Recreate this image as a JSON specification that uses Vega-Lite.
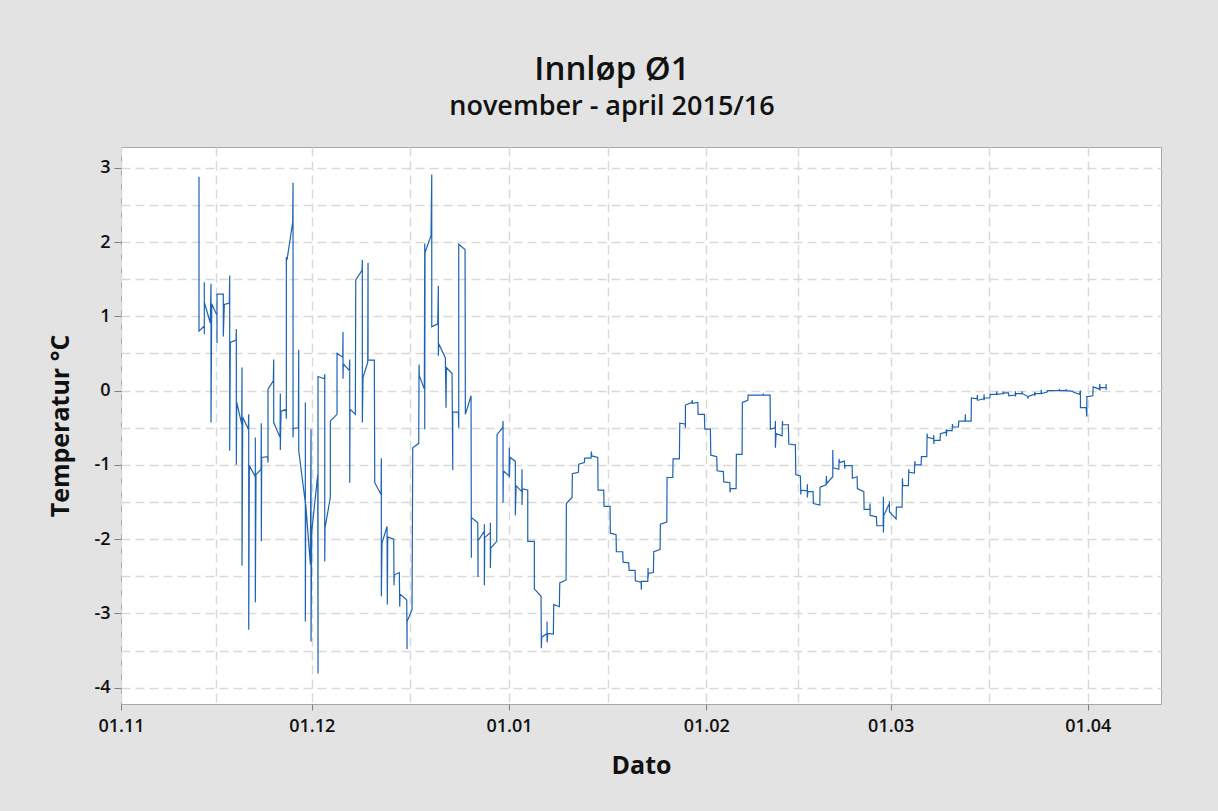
{
"$schema": "https://vega.github.io/schema/vega-lite/v6.json",
"width": 1040, "height": 557,
"autosize": {"type": "none"},
"padding": {"left": 121, "top": 147, "right": 57, "bottom": 107},
"background": "#e3e3e3",
"title": {"text": "Innløp Ø1", "subtitle": "november - april 2015/16", "anchor": "middle", "dx": -29, "offset": 27, "font": "Open Sans", "subtitleFont": "Open Sans", "fontSize": 33, "subtitleFontSize": 27, "fontWeight": 600, "subtitleFontWeight": 600, "color": "#111111", "subtitleColor": "#111111", "subtitlePadding": 7},
"data": {"values": [
{"t":"2015-11-13T06:18","v":2.88},{"t":"2015-11-13T06:18","v":0.80},{"t":"2015-11-14T02:18","v":0.87},{"t":"2015-11-14T02:18","v":1.46},{"t":"2015-11-14T02:18","v":0.76},{"t":"2015-11-14T02:18","v":1.19},
{"t":"2015-11-15T01:00","v":0.91},{"t":"2015-11-15T03:37","v":1.44},{"t":"2015-11-15T03:37","v":-0.43},{"t":"2015-11-15T06:16","v":1.17},
{"t":"2015-11-16T02:16","v":1.01},{"t":"2015-11-16T02:16","v":0.64},{"t":"2015-11-16T02:16","v":1.30},{"t":"2015-11-17T02:00","v":1.30},{"t":"2015-11-17T02:00","v":0.73},{"t":"2015-11-17T05:48","v":1.16},
{"t":"2015-11-18T00:40","v":1.18},{"t":"2015-11-18T02:10","v":1.55},{"t":"2015-11-18T02:10","v":-0.81},{"t":"2015-11-18T04:30","v":0.65},
{"t":"2015-11-19T02:00","v":0.68},{"t":"2015-11-19T03:06","v":0.83},{"t":"2015-11-19T03:06","v":-1.00},{"t":"2015-11-19T04:36","v":-0.16},
{"t":"2015-11-19T23:30","v":-0.45},{"t":"2015-11-20T00:36","v":0.31},{"t":"2015-11-20T00:36","v":-2.36},{"t":"2015-11-20T03:18","v":-0.36},
{"t":"2015-11-21T00:24","v":-0.52},{"t":"2015-11-21T01:54","v":-0.32},{"t":"2015-11-21T01:54","v":-3.22},{"t":"2015-11-21T04:12","v":-1.01},
{"t":"2015-11-22T02:48","v":-1.16},{"t":"2015-11-22T02:48","v":-0.63},{"t":"2015-11-22T02:48","v":-2.85},{"t":"2015-11-22T05:24","v":-1.13},
{"t":"2015-11-23T00:18","v":-1.06},{"t":"2015-11-23T01:24","v":-0.44},{"t":"2015-11-23T01:24","v":-2.03},{"t":"2015-11-23T03:00","v":-0.90},
{"t":"2015-11-24T01:36","v":-0.89},{"t":"2015-11-24T02:42","v":-0.97},{"t":"2015-11-24T02:42","v":0.02},{"t":"2015-11-24T22:42","v":0.13},
{"t":"2015-11-25T00:12","v":0.42},{"t":"2015-11-25T00:12","v":-0.43},{"t":"2015-11-26T00:00","v":-0.63},{"t":"2015-11-26T01:06","v":-0.04},{"t":"2015-11-26T01:06","v":-0.80},{"t":"2015-11-26T03:48","v":-0.28},
{"t":"2015-11-26T22:36","v":-0.25},{"t":"2015-11-26T23:48","v":-0.38},{"t":"2015-11-26T23:48","v":1.80},{"t":"2015-11-27T02:24","v":1.76},{"t":"2015-11-27T23:54","v":2.27},
{"t":"2015-11-28T01:06","v":2.80},{"t":"2015-11-28T01:06","v":-0.63},{"t":"2015-11-28T02:12","v":-0.51},{"t":"2015-11-28T21:06","v":-0.50},{"t":"2015-11-28T22:36","v":0.55},{"t":"2015-11-28T22:36","v":-0.81},
{"t":"2015-11-29T23:30","v":-1.51},{"t":"2015-11-29T23:30","v":-0.16},{"t":"2015-11-29T23:30","v":-3.11},{"t":"2015-11-30T01:00","v":-1.53},{"t":"2015-11-30T18:24","v":-2.34},
{"t":"2015-11-30T21:00","v":-0.52},{"t":"2015-11-30T21:00","v":-3.38},{"t":"2015-11-30T23:36","v":-1.90},{"t":"2015-12-01T22:18","v":-1.13},
{"t":"2015-12-01T23:24","v":-3.81},{"t":"2015-12-01T23:24","v":0.19},{"t":"2015-12-02T23:12","v":0.16},{"t":"2015-12-03T00:42","v":0.22},{"t":"2015-12-03T00:42","v":-2.30},{"t":"2015-12-03T01:48","v":-1.85},
{"t":"2015-12-03T21:48","v":-1.44},{"t":"2015-12-03T21:48","v":-0.41},{"t":"2015-12-04T23:06","v":-0.32},{"t":"2015-12-04T23:06","v":0.50},{"t":"2015-12-05T20:36","v":0.45},
{"t":"2015-12-05T21:42","v":0.79},{"t":"2015-12-05T21:42","v":0.16},{"t":"2015-12-05T22:54","v":0.36},{"t":"2015-12-06T21:30","v":0.27},
{"t":"2015-12-06T23:00","v":0.42},{"t":"2015-12-06T23:00","v":-1.24},{"t":"2015-12-07T00:12","v":-0.25},{"t":"2015-12-07T20:12","v":-0.32},
{"t":"2015-12-07T21:42","v":1.49},{"t":"2015-12-08T21:24","v":1.62},{"t":"2015-12-08T22:36","v":1.76},{"t":"2015-12-08T22:36","v":-0.43},{"t":"2015-12-09T01:12","v":0.18},
{"t":"2015-12-09T18:54","v":0.38},{"t":"2015-12-09T20:06","v":1.72},{"t":"2015-12-09T20:06","v":0.41},{"t":"2015-12-10T19:54","v":0.41},
{"t":"2015-12-10T21:24","v":-1.24},{"t":"2015-12-11T21:06","v":-1.40},{"t":"2015-12-11T22:18","v":-0.91},{"t":"2015-12-11T22:18","v":-2.77},{"t":"2015-12-12T00:54","v":-2.05},
{"t":"2015-12-12T19:48","v":-1.83},{"t":"2015-12-12T20:54","v":-2.88},{"t":"2015-12-12T22:24","v":-1.97},{"t":"2015-12-13T21:06","v":-2.00},
{"t":"2015-12-13T22:12","v":-2.62},{"t":"2015-12-13T23:18","v":-2.48},{"t":"2015-12-14T18:12","v":-2.45},{"t":"2015-12-14T19:42","v":-2.91},{"t":"2015-12-14T20:48","v":-2.74},
{"t":"2015-12-15T22:06","v":-2.82},{"t":"2015-12-15T23:18","v":-3.48},{"t":"2015-12-15T23:18","v":-3.11},{"t":"2015-12-16T18:06","v":-2.95},
{"t":"2015-12-16T20:48","v":-0.77},{"t":"2015-12-17T19:24","v":-0.71},{"t":"2015-12-17T20:30","v":0.35},{"t":"2015-12-17T21:42","v":0.20},
{"t":"2015-12-18T16:30","v":0.02},{"t":"2015-12-18T18:00","v":1.98},{"t":"2015-12-18T18:00","v":-0.52},{"t":"2015-12-18T19:12","v":1.86},
{"t":"2015-12-19T17:48","v":2.09},{"t":"2015-12-19T20:30","v":2.91},{"t":"2015-12-19T20:30","v":0.86},{"t":"2015-12-20T19:06","v":0.90},
{"t":"2015-12-20T21:24","v":1.41},{"t":"2015-12-20T21:24","v":0.47},{"t":"2015-12-20T22:54","v":0.63},{"t":"2015-12-21T23:48","v":0.44},
{"t":"2015-12-22T02:24","v":-0.23},{"t":"2015-12-22T03:36","v":0.31},{"t":"2015-12-23T01:06","v":0.23},{"t":"2015-12-23T03:42","v":-1.07},{"t":"2015-12-23T03:42","v":-0.29},
{"t":"2015-12-24T00:48","v":-0.29},{"t":"2015-12-24T02:18","v":-0.50},{"t":"2015-12-24T02:18","v":1.97},{"t":"2015-12-25T02:06","v":1.90},
{"t":"2015-12-25T03:18","v":-0.32},{"t":"2015-12-26T00:48","v":-0.07},{"t":"2015-12-26T01:54","v":-2.25},{"t":"2015-12-26T01:54","v":-1.71},
{"t":"2015-12-27T02:06","v":-1.78},{"t":"2015-12-27T03:12","v":-2.51},{"t":"2015-12-27T03:12","v":-2.02},{"t":"2015-12-28T03:00","v":-1.89},{"t":"2015-12-28T03:00","v":-1.80},{"t":"2015-12-28T03:00","v":-2.62},{"t":"2015-12-28T04:30","v":-1.98},
{"t":"2015-12-29T01:36","v":-1.91},{"t":"2015-12-29T01:36","v":-1.78},{"t":"2015-12-29T01:36","v":-2.39},{"t":"2015-12-29T03:06","v":-2.12},
{"t":"2015-12-30T01:48","v":-2.03},{"t":"2015-12-30T02:54","v":-0.59},{"t":"2015-12-31T00:24","v":-0.50},{"t":"2015-12-31T01:30","v":-0.41},{"t":"2015-12-31T01:30","v":-1.51},{"t":"2015-12-31T02:42","v":-1.08},
{"t":"2016-01-01T00:12","v":-1.15},{"t":"2016-01-01T01:18","v":-0.77},{"t":"2016-01-01T01:18","v":-1.17},{"t":"2016-01-01T03:54","v":-0.90},
{"t":"2016-01-01T23:54","v":-0.95},{"t":"2016-01-01T23:54","v":-1.68},{"t":"2016-01-02T02:36","v":-1.28},{"t":"2016-01-03T00:06","v":-1.36},
{"t":"2016-01-03T01:12","v":-1.06},{"t":"2016-01-03T01:12","v":-1.54},{"t":"2016-01-03T02:24","v":-1.32},{"t":"2016-01-03T22:42","v":-1.34},
{"t":"2016-01-03T22:42","v":-2.03},{"t":"2016-01-04T23:36","v":-2.03},{"t":"2016-01-04T23:36","v":-2.67},{"t":"2016-01-06T00:54","v":-2.77},
{"t":"2016-01-06T02:00","v":-3.47},{"t":"2016-01-06T03:30","v":-3.32},{"t":"2016-01-06T23:36","v":-3.27},{"t":"2016-01-06T23:36","v":-3.11},{"t":"2016-01-06T23:36","v":-3.39},{"t":"2016-01-07T02:12","v":-3.27},
{"t":"2016-01-07T23:18","v":-3.28},{"t":"2016-01-08T00:48","v":-2.88},{"t":"2016-01-08T22:00","v":-2.91},{"t":"2016-01-08T23:30","v":-2.59},
{"t":"2016-01-09T23:18","v":-2.55},{"t":"2016-01-10T00:24","v":-1.52},{"t":"2016-01-10T21:54","v":-1.44},{"t":"2016-01-10T23:00","v":-1.12},
{"t":"2016-01-11T21:42","v":-1.10},{"t":"2016-01-11T23:12","v":-0.99},{"t":"2016-01-12T20:18","v":-0.97},{"t":"2016-01-12T21:48","v":-0.91},
{"t":"2016-01-13T21:36","v":-0.91},{"t":"2016-01-13T22:42","v":-0.82},{"t":"2016-01-14T00:12","v":-0.88},{"t":"2016-01-14T22:54","v":-0.90},
{"t":"2016-01-15T00:00","v":-1.34},{"t":"2016-01-15T21:30","v":-1.34},{"t":"2016-01-15T22:36","v":-1.56},{"t":"2016-01-16T21:18","v":-1.56},
{"t":"2016-01-16T22:24","v":-1.92},{"t":"2016-01-17T19:54","v":-1.94},{"t":"2016-01-17T21:06","v":-2.17},{"t":"2016-01-18T21:12","v":-2.17},
{"t":"2016-01-18T22:18","v":-2.31},{"t":"2016-01-19T19:48","v":-2.32},{"t":"2016-01-19T21:00","v":-2.42},{"t":"2016-01-20T19:36","v":-2.42},
{"t":"2016-01-20T20:48","v":-2.56},{"t":"2016-01-21T18:18","v":-2.58},{"t":"2016-01-21T19:24","v":-2.68},{"t":"2016-01-21T19:24","v":-2.57},
{"t":"2016-01-22T19:36","v":-2.57},{"t":"2016-01-22T20:42","v":-2.39},{"t":"2016-01-22T20:42","v":-2.52},{"t":"2016-01-22T21:48","v":-2.46},
{"t":"2016-01-23T16:42","v":-2.45},{"t":"2016-01-23T18:12","v":-2.17},{"t":"2016-01-24T18:00","v":-2.14},{"t":"2016-01-24T19:06","v":-1.80},
{"t":"2016-01-25T19:18","v":-1.77},{"t":"2016-01-25T20:24","v":-1.17},{"t":"2016-01-26T17:54","v":-1.17},{"t":"2016-01-26T19:00","v":-0.92},
{"t":"2016-01-27T18:48","v":-0.92},{"t":"2016-01-27T20:18","v":-0.44},{"t":"2016-01-28T16:18","v":-0.45},{"t":"2016-01-28T17:30","v":-0.50},{"t":"2016-01-28T17:30","v":-0.20},{"t":"2016-01-28T20:06","v":-0.19},
{"t":"2016-01-29T17:36","v":-0.16},{"t":"2016-01-29T19:54","v":-0.13},{"t":"2016-01-29T19:54","v":-0.17},{"t":"2016-01-30T16:18","v":-0.16},
{"t":"2016-01-30T17:24","v":-0.32},{"t":"2016-01-31T17:12","v":-0.32},{"t":"2016-01-31T18:42","v":-0.52},{"t":"2016-02-01T15:48","v":-0.52},
{"t":"2016-02-01T17:18","v":-0.87},{"t":"2016-02-02T15:54","v":-0.89},{"t":"2016-02-02T17:06","v":-1.08},{"t":"2016-02-03T16:48","v":-1.09},
{"t":"2016-02-03T18:18","v":-1.23},{"t":"2016-02-04T17:00","v":-1.24},{"t":"2016-02-04T18:06","v":-1.37},{"t":"2016-02-04T19:18","v":-1.32},
{"t":"2016-02-05T16:48","v":-1.32},{"t":"2016-02-05T17:54","v":-0.86},{"t":"2016-02-06T15:24","v":-0.86},{"t":"2016-02-06T16:30","v":-0.16},
{"t":"2016-02-07T12:54","v":-0.13},{"t":"2016-02-07T14:06","v":-0.06},{"t":"2016-02-09T23:48","v":-0.06},{"t":"2016-02-09T23:48","v":-0.04},{"t":"2016-02-09T23:48","v":-0.06},
{"t":"2016-02-11T01:06","v":-0.06},{"t":"2016-02-11T02:12","v":-0.52},{"t":"2016-02-11T20:00","v":-0.50},{"t":"2016-02-11T21:06","v":-0.41},{"t":"2016-02-11T21:06","v":-0.77},{"t":"2016-02-11T23:42","v":-0.58},
{"t":"2016-02-12T22:24","v":-0.61},{"t":"2016-02-12T23:30","v":-0.41},{"t":"2016-02-13T01:00","v":-0.46},{"t":"2016-02-13T22:06","v":-0.46},
{"t":"2016-02-13T23:36","v":-0.72},{"t":"2016-02-15T00:30","v":-0.73},{"t":"2016-02-15T02:00","v":-1.13},{"t":"2016-02-15T19:24","v":-1.15},
{"t":"2016-02-15T20:54","v":-1.40},{"t":"2016-02-15T22:00","v":-1.34},{"t":"2016-02-16T20:42","v":-1.35},{"t":"2016-02-16T21:48","v":-1.26},{"t":"2016-02-16T21:48","v":-1.44},{"t":"2016-02-16T23:18","v":-1.36},
{"t":"2016-02-17T19:18","v":-1.36},{"t":"2016-02-17T20:30","v":-1.52},{"t":"2016-02-18T20:36","v":-1.54},{"t":"2016-02-18T21:42","v":-1.30},
{"t":"2016-02-19T20:24","v":-1.27},{"t":"2016-02-19T21:30","v":-1.15},{"t":"2016-02-19T23:00","v":-1.25},{"t":"2016-02-20T21:36","v":-1.16},{"t":"2016-02-20T21:36","v":-0.80},{"t":"2016-02-20T22:48","v":-1.04},
{"t":"2016-02-21T20:18","v":-1.06},{"t":"2016-02-21T21:24","v":-0.92},{"t":"2016-02-21T22:36","v":-0.97},{"t":"2016-02-22T17:24","v":-0.95},
{"t":"2016-02-22T19:00","v":-1.05},{"t":"2016-02-22T20:06","v":-1.01},{"t":"2016-02-23T22:30","v":-1.01},{"t":"2016-02-23T23:36","v":-1.18},
{"t":"2016-02-24T17:24","v":-1.16},{"t":"2016-02-24T18:30","v":-1.32},{"t":"2016-02-25T18:42","v":-1.36},{"t":"2016-02-25T19:48","v":-1.60},
{"t":"2016-02-26T17:18","v":-1.60},{"t":"2016-02-26T18:24","v":-1.52},{"t":"2016-02-26T18:24","v":-1.69},{"t":"2016-02-26T19:36","v":-1.68},
{"t":"2016-02-27T18:12","v":-1.70},{"t":"2016-02-27T19:42","v":-1.82},{"t":"2016-02-28T19:30","v":-1.82},{"t":"2016-02-28T20:36","v":-1.43},{"t":"2016-02-28T20:36","v":-1.91},{"t":"2016-02-28T22:06","v":-1.68},
{"t":"2016-02-29T19:18","v":-1.52},{"t":"2016-02-29T19:18","v":-1.49},{"t":"2016-02-29T19:18","v":-1.63},{"t":"2016-03-01T20:30","v":-1.73},
{"t":"2016-03-01T21:42","v":-1.57},{"t":"2016-03-02T19:12","v":-1.57},{"t":"2016-03-02T20:18","v":-1.18},{"t":"2016-03-02T21:48","v":-1.28},
{"t":"2016-03-03T18:54","v":-1.28},{"t":"2016-03-03T20:30","v":-1.06},{"t":"2016-03-03T21:36","v":-1.10},{"t":"2016-03-04T17:36","v":-1.11},
{"t":"2016-03-04T19:06","v":-0.95},{"t":"2016-03-04T20:12","v":-1.00},{"t":"2016-03-05T18:54","v":-1.00},{"t":"2016-03-05T20:00","v":-0.89},
{"t":"2016-03-06T16:24","v":-0.89},{"t":"2016-03-06T17:30","v":-0.58},{"t":"2016-03-06T18:36","v":-0.63},{"t":"2016-03-07T17:18","v":-0.65},
{"t":"2016-03-07T18:48","v":-0.60},{"t":"2016-03-07T18:48","v":-0.72},{"t":"2016-03-07T19:54","v":-0.67},{"t":"2016-03-08T18:36","v":-0.67},
{"t":"2016-03-08T19:42","v":-0.58},{"t":"2016-03-09T17:12","v":-0.56},{"t":"2016-03-09T18:18","v":-0.52},{"t":"2016-03-09T18:18","v":-0.61},{"t":"2016-03-09T19:54","v":-0.54},
{"t":"2016-03-10T15:54","v":-0.54},{"t":"2016-03-10T17:00","v":-0.45},{"t":"2016-03-10T18:30","v":-0.49},{"t":"2016-03-11T15:42","v":-0.49},
{"t":"2016-03-11T17:12","v":-0.41},{"t":"2016-03-12T16:54","v":-0.41},{"t":"2016-03-12T18:06","v":-0.32},{"t":"2016-03-12T18:06","v":-0.41},
{"t":"2016-03-13T15:36","v":-0.41},{"t":"2016-03-13T16:42","v":-0.10},{"t":"2016-03-14T14:12","v":-0.11},{"t":"2016-03-14T15:24","v":-0.06},{"t":"2016-03-14T15:24","v":-0.13},{"t":"2016-03-14T16:54","v":-0.13},
{"t":"2016-03-15T15:30","v":-0.11},{"t":"2016-03-15T16:36","v":-0.05},{"t":"2016-03-15T16:36","v":-0.13},{"t":"2016-03-15T17:48","v":-0.10},
{"t":"2016-03-16T14:06","v":-0.10},{"t":"2016-03-16T15:18","v":-0.05},{"t":"2016-03-17T15:00","v":-0.05},{"t":"2016-03-17T16:30","v":-0.01},{"t":"2016-03-17T16:30","v":-0.06},{"t":"2016-03-17T17:42","v":-0.05},
{"t":"2016-03-18T15:12","v":-0.04},{"t":"2016-03-18T16:18","v":-0.01},{"t":"2016-03-18T16:18","v":-0.05},{"t":"2016-03-18T17:24","v":-0.03},
{"t":"2016-03-19T12:18","v":-0.03},{"t":"2016-03-19T13:48","v":-0.07},{"t":"2016-03-20T13:36","v":-0.06},{"t":"2016-03-20T14:42","v":-0.01},{"t":"2016-03-20T14:42","v":-0.08},{"t":"2016-03-20T16:12","v":-0.04},
{"t":"2016-03-21T14:54","v":-0.04},{"t":"2016-03-21T16:00","v":-0.01},{"t":"2016-03-21T16:00","v":-0.05},{"t":"2016-03-21T17:06","v":-0.04},
{"t":"2016-03-22T13:30","v":-0.08},{"t":"2016-03-22T13:30","v":-0.11},{"t":"2016-03-22T14:42","v":-0.08},{"t":"2016-03-23T14:24","v":-0.05},
{"t":"2016-03-23T15:54","v":-0.02},{"t":"2016-03-23T15:54","v":-0.07},{"t":"2016-03-23T17:06","v":-0.04},{"t":"2016-03-24T15:42","v":-0.04},
{"t":"2016-03-24T15:42","v":0.01},{"t":"2016-03-24T16:48","v":-0.04},{"t":"2016-03-25T14:24","v":-0.02},{"t":"2016-03-25T15:30","v":0.00},
{"t":"2016-03-27T12:48","v":0.00},{"t":"2016-03-27T12:48","v":0.02},{"t":"2016-03-27T12:48","v":0.00},{"t":"2016-03-28T14:06","v":0.00},{"t":"2016-03-28T14:06","v":0.02},{"t":"2016-03-28T14:06","v":0.00},
{"t":"2016-03-29T15:24","v":-0.01},{"t":"2016-03-29T16:30","v":-0.02},{"t":"2016-03-30T16:18","v":-0.05},{"t":"2016-03-30T20:06","v":0.00},{"t":"2016-03-30T20:06","v":-0.23},{"t":"2016-03-30T22:42","v":-0.23},
{"t":"2016-03-31T17:30","v":-0.23},{"t":"2016-03-31T20:12","v":-0.35},{"t":"2016-03-31T20:12","v":-0.08},{"t":"2016-03-31T21:18","v":-0.08},
{"t":"2016-04-01T18:48","v":-0.07},{"t":"2016-04-01T20:00","v":0.05},{"t":"2016-04-02T19:48","v":0.02},{"t":"2016-04-02T21:18","v":0.09},{"t":"2016-04-02T21:18","v":0.00},{"t":"2016-04-02T22:24","v":0.04},
{"t":"2016-04-03T21:00","v":0.04},{"t":"2016-04-03T21:00","v":0.09},{"t":"2016-04-03T21:00","v":0.01},{"t":"2016-04-03T21:00","v":0.04}
]},
"mark": {"type": "line", "color": "#1d63b5", "strokeWidth": 1.2},
"encoding": {
"x": {"field": "t", "type": "temporal", "title": "Dato",
 "scale": {"domain": [{"year": 2015, "month": 11, "date": 1}, {"year": 2016, "month": 4, "date": 12, "hours": 12}]},
 "axis": {"values": [{"year": 2015, "month": 11, "date": 1}, {"year": 2015, "month": 11, "date": 16}, {"year": 2015, "month": 12, "date": 1}, {"year": 2015, "month": 12, "date": 16, "hours": 12}, {"year": 2016, "month": 1, "date": 1}, {"year": 2016, "month": 1, "date": 16, "hours": 12}, {"year": 2016, "month": 2, "date": 1}, {"year": 2016, "month": 2, "date": 15, "hours": 12}, {"year": 2016, "month": 3, "date": 1}, {"year": 2016, "month": 3, "date": 16, "hours": 12}, {"year": 2016, "month": 4, "date": 1}],
  "labelExpr": "date(datum.value) == 1 && hours(datum.value) == 0 ? timeFormat(datum.value, '%d.%m') : ''",
  "tickColor": {"condition": {"test": "date(datum.value) == 1 && hours(datum.value) == 0", "value": "#7f7f7f"}, "value": "transparent"},
  "labelFlush": false, "labelOverlap": false, "labelBound": false,
  "tickSize": 6, "labelPadding": 7, "titlePadding": 18}},
"y": {"field": "v", "type": "quantitative", "title": "Temperatur °C",
 "scale": {"domain": [-4.22, 3.28], "nice": false, "zero": false},
 "axis": {"values": [-4, -3.5, -3, -2.5, -2, -1.5, -1, -0.5, 0, 0.5, 1, 1.5, 2, 2.5, 3],
  "labelExpr": "datum.value % 1 == 0 ? replace(format(datum.value, 'd'), '−', '-') : ''",
  "tickColor": {"condition": {"test": "datum.value % 1 == 0", "value": "#7f7f7f"}, "value": "transparent"},
  "labelFlush": false, "labelOverlap": false,
  "tickSize": 7, "labelPadding": 4, "titlePadding": 20}},
"order": {"value": null}
},
"config": {
"view": {"stroke": "#a8a8a8", "fill": "#ffffff", "strokeWidth": 1},
"axis": {"grid": true, "gridColor": "#d9d9d9", "gridDash": [9, 5], "gridWidth": 1.5, "domain": false, "labelFont": "Open Sans", "labelFontSize": 18, "labelFontWeight": 600, "labelColor": "#111111", "titleFont": "Open Sans", "titleFontSize": 25, "titleFontWeight": 700, "titleColor": "#111111"}
}
}
